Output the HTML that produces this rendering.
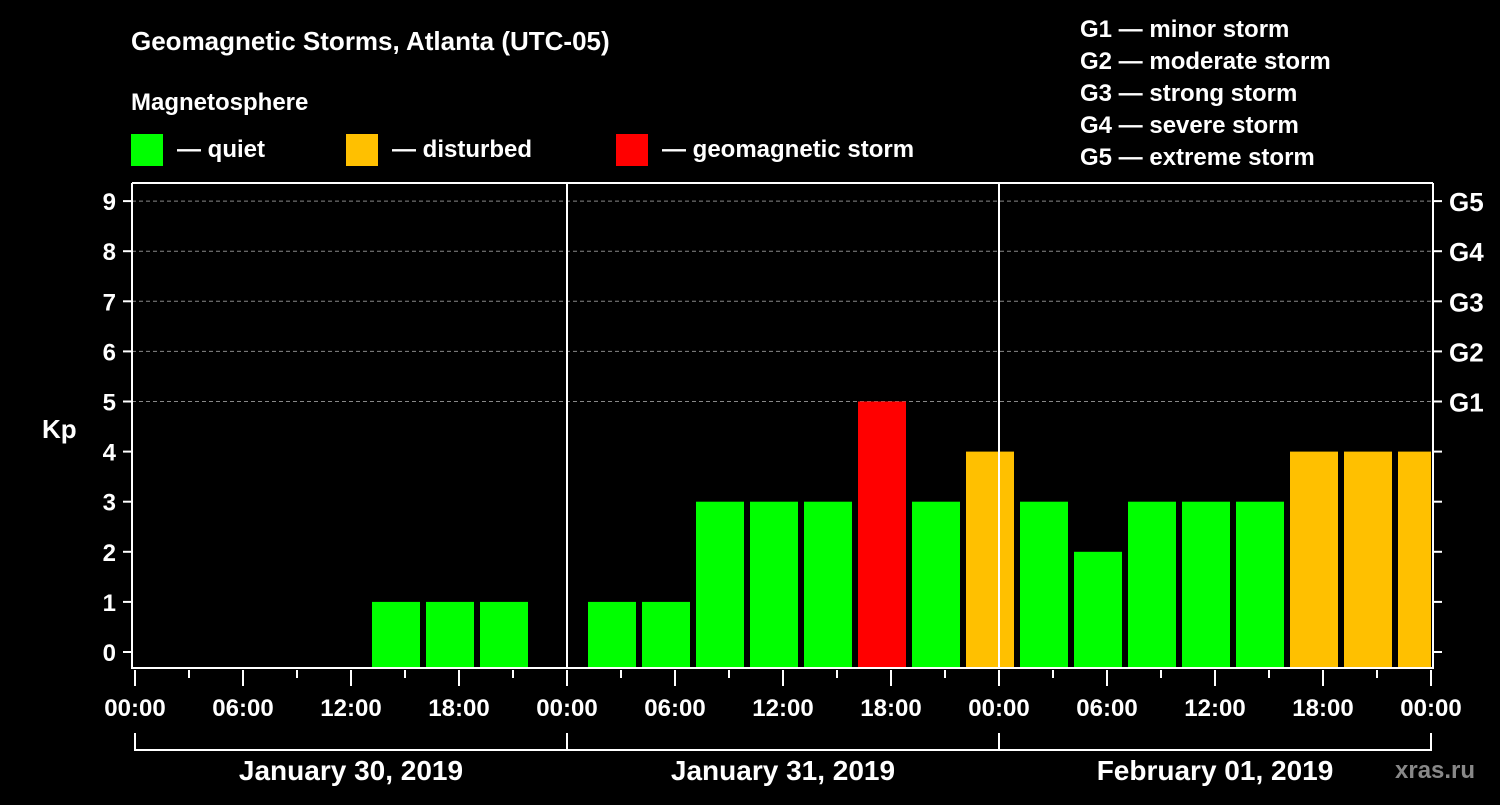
<!DOCTYPE html>
<html><head><meta charset="utf-8"><style>
body{margin:0;background:#000;width:1500px;height:800px;overflow:hidden}
svg text{font-family:"Liberation Sans",Arial,sans-serif;font-weight:bold;fill:#fff}
</style></head><body>
<svg id="c" width="1500" height="800" xmlns="http://www.w3.org/2000/svg">
<text x="131" y="50" font-size="26">Geomagnetic Storms, Atlanta (UTC-05)</text>
<text x="131" y="110" font-size="24">Magnetosphere</text>
<g><rect x="131" y="134" width="32" height="32" fill="#00ff00"/><text x="177" y="157" font-size="24">— quiet</text></g>
<g><rect x="346" y="134" width="32" height="32" fill="#ffc000"/><text x="392" y="157" font-size="24">— disturbed</text></g>
<g><rect x="616" y="134" width="32" height="32" fill="#ff0000"/><text x="662" y="157" font-size="24">— geomagnetic storm</text></g>
<g font-size="24">
<text x="1080" y="37">G1 — minor storm</text><text x="1080" y="69">G2 — moderate storm</text><text x="1080" y="101">G3 — strong storm</text><text x="1080" y="133">G4 — severe storm</text><text x="1080" y="165">G5 — extreme storm</text></g>
<text x="42" y="438" font-size="26">Kp</text>
<text x="1395" y="778" font-size="24" fill="#999" style="fill:#888">xras.ru</text>
<g id="grid"></g><g id="bars"></g><g id="axes"></g>
</svg>
<script>
const dayLabels=["January 30, 2019","January 31, 2019","February 01, 2019"];
const slotStartHours=[-2,1,4,7,10,13,16,19,22,25,28,31,34,37,40,43,46,49,52,55,58,61,64,67,70];
const kpValues=[0,0,0,0,0,1,1,1,0,1,1,3,3,3,5,3,4,3,2,3,3,3,4,4,4];
const yTicks=[0,1,2,3,4,5,6,7,8,9];
const gLabels=[[5,"G1"],[6,"G2"],[7,"G3"],[8,"G4"],[9,"G5"]];
const hourTickLabels=["00:00","06:00","12:00","18:00"];
const NS="http://www.w3.org/2000/svg";
const X0=135,PXH=18.0,Y0=652,PXK=50.1,L=132,R=1433,T=183,B=668;
const x=h=>X0+h*PXH, y=k=>Y0-k*PXK;
function el(p,t,a){const e=document.createElementNS(NS,t);for(const k in a)e.setAttribute(k,a[k]);p.appendChild(e);return e;}
const grid=document.getElementById('grid'),bars=document.getElementById('bars'),axes=document.getElementById('axes');
[5,6,7,8,9].forEach(k=>{const g=el(grid,'line',{x1:L,x2:R,y1:y(k),y2:y(k),stroke:'#888','stroke-dasharray':'4,3'});

});
slotStartHours.forEach((h,i)=>{const v=kpValues[i];if(v<=0)return;
let x1=Math.max(x(h)+3,L+1),x2=Math.min(x(h+3)-3,R-2);
const c=v>=5?'#ff0000':v>=4?'#ffc000':'#00ff00';
const r=el(bars,'rect',{x:x1,y:y(v),width:x2-x1,height:B-y(v),fill:c});

});
const fr=el(axes,'path',{d:`M${L} ${T}V${B}H${R}V${T}`,fill:'none',stroke:'#fff','stroke-width':2});


el(axes,'line',{x1:L,x2:R,y1:T,y2:T,stroke:'#fff','stroke-width':2});
[1,2].forEach(d=>{const l=el(axes,'line',{x1:x(24*d),x2:x(24*d),y1:T,y2:B,stroke:'#fff','stroke-width':2});

});
yTicks.forEach(k=>{el(axes,'line',{x1:L-9,x2:L,y1:y(k),y2:y(k),stroke:'#fff','stroke-width':2});
el(axes,'line',{x1:R,x2:R+9,y1:y(k),y2:y(k),stroke:'#fff','stroke-width':2});
const t=el(axes,'text',{x:116,y:y(k)+9,'font-size':24,'text-anchor':'end'});t.textContent=k;

});
gLabels.forEach(([k,s])=>{const t=el(axes,'text',{x:1449,y:y(k)+10,'font-size':26});t.textContent=s;

});
for(let h=0;h<=72;h+=3){const maj=h%6===0;el(axes,'line',{x1:x(h),x2:x(h),y1:B+2,y2:maj?B+18:B+10,stroke:'#fff','stroke-width':2});
if(maj){const t=el(axes,'text',{x:x(h),y:716,'font-size':24,'text-anchor':'middle'});t.textContent=hourTickLabels[(h/6)%4];

}}
el(axes,'path',{d:`M${x(0)} 733V750H${x(72)}V733M${x(24)} 733V750M${x(48)} 733V750`,fill:'none',stroke:'#fff','stroke-width':2});
dayLabels.forEach((s,d)=>{const t=el(axes,'text',{x:x(24*d+12),y:780,'font-size':28,'text-anchor':'middle'});t.textContent=s;

});
</script>
</body></html>
